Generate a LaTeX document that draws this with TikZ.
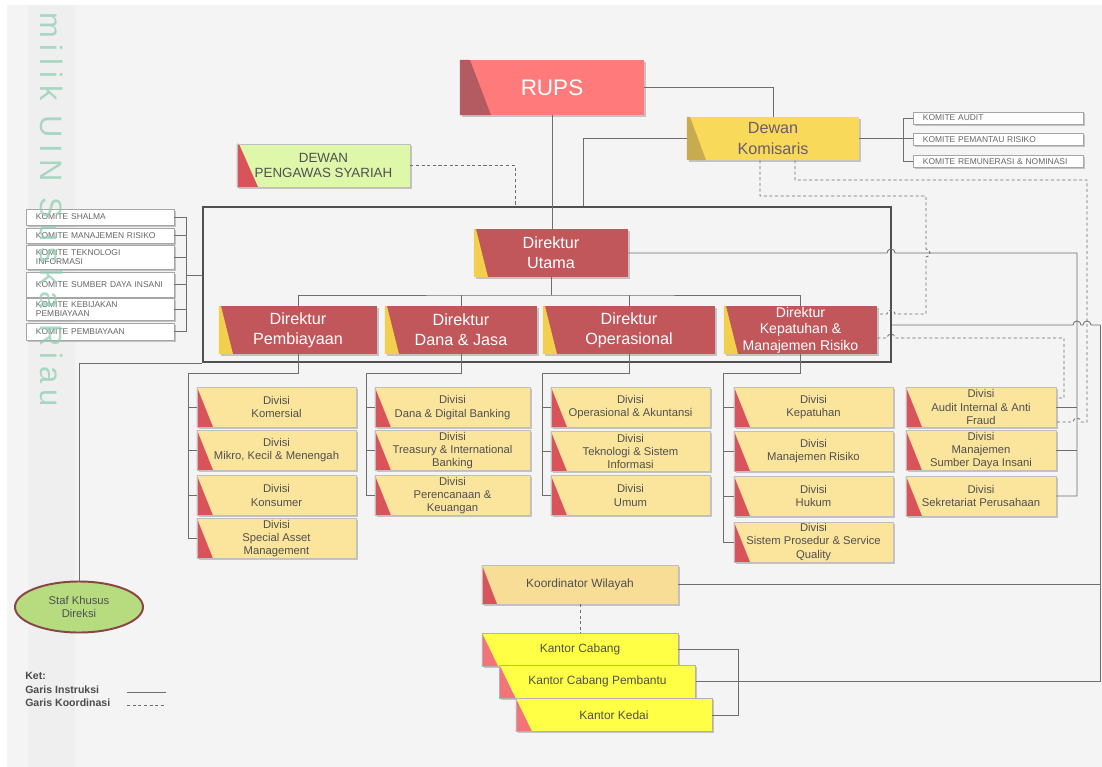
\documentclass[tikz,border=0pt]{standalone}
\usepackage{fontspec}
\setmainfont{Liberation Sans}
\newfontfamily\wmfont[LetterSpace=21]{Liberation Sans}
\usetikzlibrary{shapes.geometric,shadows}
\definecolor{bgpage}{HTML}{F4F4F4}
\definecolor{bgband}{HTML}{EFEFEF}
\definecolor{wmgreen}{HTML}{8FCFB3}
\definecolor{lngray}{HTML}{6E6E6E}
\definecolor{framegray}{HTML}{505050}
\definecolor{rupsfill}{HTML}{FF7B7B}
\definecolor{rupsdark}{HTML}{B45A61}
\definecolor{dekomfill}{HTML}{F8D95A}
\definecolor{dekomdark}{HTML}{C9AB4F}
\definecolor{dekomtext}{HTML}{6A5D70}
\definecolor{dpsfill}{HTML}{DEF7A8}
\definecolor{dirfill}{HTML}{C1575B}
\definecolor{diryellow}{HTML}{F3CF4E}
\definecolor{divfill}{HTML}{FBE49C}
\definecolor{divred}{HTML}{D9545A}
\definecolor{korfill}{HTML}{F8DD96}
\definecolor{kanfill}{HTML}{FFFF45}
\definecolor{kanred}{HTML}{F27479}
\definecolor{staffill}{HTML}{B6DC7F}
\definecolor{stafline}{HTML}{8A4646}
\definecolor{txtgray}{HTML}{505050}
\tikzset{
	accent/.style n args={3}{path picture={\fill[#1] (path picture bounding box.north west) -- ([xshift=#2]path picture bounding box.north west) -- ([xshift=#3]path picture bounding box.south west) -- (path picture bounding box.south west) -- cycle;}},
	boxshadow/.style={drop shadow={shadow xshift=1.2pt,shadow yshift=-1.2pt,opacity=0.2,fill=black}},
	ln/.style={draw=lngray, line width=0.6pt},
	lnd/.style={ln, dash pattern=on 2.2pt off 1.8pt},
	rupsbox/.style={fill=rupsfill, text=white, font=\fontsize{16}{18}\selectfont, minimum width=4.6cm, minimum height=1.375cm, inner sep=0pt, accent={rupsdark}{0.25cm}{0.775cm}, boxshadow},
	dekombox/.style={fill=dekomfill, text=dekomtext, font=\fontsize{11.5}{14.7}\selectfont, align=center, minimum width=4.3cm, minimum height=1.075cm, inner sep=0pt, accent={dekomdark}{0.075cm}{0.475cm}, boxshadow},
	dpsbox/.style={draw=black!25, fill=dpsfill, text=txtgray, font=\fontsize{9.5}{11}\selectfont, align=center, minimum width=4.325cm, minimum height=1.075cm, inner sep=0pt, accent={divred}{0.05cm}{0.525cm}, boxshadow},
	dirbox/.style={fill=dirfill, text=white, font=\fontsize{11.5}{14}\selectfont, align=center, minimum height=1.2cm, inner sep=0pt, accent={diryellow}{0.05cm}{0.35cm}, boxshadow},
	divbox/.style={draw=black!25, fill=divfill, text=txtgray, font=\fontsize{8}{9.5}\selectfont, align=center, minimum height=1cm, inner sep=0pt, accent={divred}{0cm}{0.4cm}, boxshadow},
	komitebox/.style={draw=black!35, fill=white, text=black!60, font=\fontsize{6}{6.5}\selectfont, align=left, inner xsep=0.25cm, inner ysep=0pt, text width=3.2cm, boxshadow},
	korbox/.style={draw=black!25, fill=korfill, text=txtgray, font=\fontsize{8.5}{10}\selectfont, minimum width=4.9cm, minimum height=0.975cm, inner sep=0pt, accent={divred}{0cm}{0.375cm}, boxshadow},
	kantorbox/.style={draw=black!30, fill=kanfill, text=txtgray, font=\fontsize{8.5}{10}\selectfont, minimum width=4.9cm, minimum height=0.825cm, inner sep=0pt, accent={kanred}{0cm}{0.4cm}, boxshadow},
	legtext/.style={text=black!70, font=\bfseries\fontsize{7.5}{9}\selectfont, inner sep=0pt, anchor=west}
}
\begin{document}
\begin{tikzpicture}[x=0.025cm,y=-0.025cm]
	\useasboundingbox (0,0) rectangle (1102,767);
	\fill[white] (0,0) rectangle (1102,767);
	\fill[bgpage] (7,5) rectangle (1102,767);
	\fill[bgband] (28,5) rectangle (75,767);

	\node[draw=framegray, line width=1.3pt, minimum width=17.2cm, minimum height=3.875cm, inner sep=0pt] (direksi) at (547,284.5) {};

	\node[rupsbox] (rups) at (552,87.5) {RUPS};
	\node[dekombox] (dekom) at (773,138.5) {Dewan\\Komisaris};
	\node[dpsbox] (dps) at (323.5,165.5) {DEWAN\\PENGAWAS SYARIAH};
	\foreach \n/\y/\t in {kaudit/118/{KOMITE AUDIT},kpr/139.5/{KOMITE PEMANTAU RISIKO},krem/161.5/{KOMITE REMUNERASI \& NOMINASI}}
		\node[komitebox, text width=3.75cm, minimum height=0.31cm] (\n) at (998,\y) {\t};
	\foreach \n/\y/\h/\t in {shalma/217/0.4/{KOMITE SHALMA},kmr/235.5/0.375/{KOMITE MANAJEMEN RISIKO},kti/257/0.6/{KOMITE TEKNOLOGI\\INFORMASI},ksdi/284.5/0.625/{KOMITE SUMBER DAYA INSANI},kkp/309/0.55/{KOMITE KEBIJAKAN\\PEMBIAYAAN},kpem/331.5/0.425/{KOMITE PEMBIAYAAN}}
		\node[komitebox, minimum height=\h cm] (\n) at (100,\y) {\t};

	\node[dirbox, minimum width=3.85cm] (dirut) at (551,253) {Direktur\\Utama};
	\node[dirbox, minimum width=3.95cm] (dirpem) at (298,330) {Direktur\\Pembiayaan};
	\node[dirbox, minimum width=3.8cm] (dirdj) at (461,330) {Direktur\\Dana \& Jasa};
	\node[dirbox, minimum width=4.3cm] (dirop) at (629,330) {Direktur\\Operasional};
	\node[dirbox, minimum width=3.825cm, font=\fontsize{10}{11.8}\selectfont] (dirkp) at (800.5,330) {Direktur\\Kepatuhan \&\\Manajemen Risiko};

	\foreach \n/\x/\y/\w/\t in {pa/276.5/407/3.975/{Divisi\\Komersial},pb/276.5/450/3.975/{Divisi\\Mikro, Kecil \& Menengah},pc/276.5/495.5/3.975/{Divisi\\Konsumer},pd/276.5/538.5/3.975/{Divisi\\Special Asset\\Management},
		ja/452.5/407.5/3.875/{Divisi\\Dana \& Digital Banking},jb/452.5/450.5/3.875/{Divisi\\Treasury \& International\\Banking},jc/452.5/495.5/3.875/{Divisi\\Perencanaan \&\\Keuangan},
		oa/630.5/407/3.975/{Divisi\\Operasional \& Akuntansi},ob/630.5/451.5/3.975/{Divisi\\Teknologi \& Sistem\\Informasi},oc/630.5/495.5/3.975/{Divisi\\Umum},
		ka/813.5/407/3.975/{Divisi\\Kepatuhan},kb/813.5/451/3.975/{Divisi\\Manajemen Risiko},kc/813.5/496/3.975/{Divisi\\Hukum},kd/813.5/542/3.975/{Divisi\\Sistem Prosedur \& Service\\Quality},
		ua/981/407/3.75/{Divisi\\Audit Internal \& Anti\\Fraud},ub/981/450.5/3.75/{Divisi\\Manajemen\\Sumber Daya Insani},uc/981/496/3.75/{Divisi\\Sekretariat Perusahaan}}
		\node[divbox, minimum width=\w cm] (\n) at (\x,\y) {\t};

	\node[korbox] (korwil) at (580,584.5) {Koordinator Wilayah};
	\node[kantorbox] (cabang) at (580,649.5) {Kantor Cabang};
	\node[kantorbox] (capem) at (597.5,681.5) {Kantor Cabang Pembantu};
	\node[kantorbox] (kedai) at (614,715) {Kantor Kedai};
	\node[ellipse, draw=stafline, line width=1.4pt, fill=staffill, text=txtgray, font=\fontsize{8}{9.5}\selectfont, align=center, minimum width=3.2cm, minimum height=1.275cm, inner sep=0pt] (staf) at (79,607) {Staf Khusus\\Direksi};

	\draw[ln] (rups.south) -- (rups.south |- dirut.north);
	\draw[ln] (rups.east) -| (dekom.north);
	\draw[ln] (dekom.west) -| ([xshift=0.9cm]direksi.north);
	\draw[lnd] (dps.east) -| ([xshift=-0.8cm]direksi.north);
	\coordinate (kr) at (903,138.5);
	\draw[ln] (dekom.east) -- (dekom.east -| kpr.west);
	\draw[ln] (kaudit.west) -| (kr) |- (krem.west);

	\draw[lnd] ([xshift=-0.325cm]dekom.south) |- (926,196) -- (926,249) arc[start angle=90, end angle=-90, radius=0.1cm] -- (926,314) -- (895,314) arc[start angle=0, end angle=180, radius=0.1cm] -- ([yshift=0.4cm]dirkp.east);
	\draw[lnd] ([xshift=0.55cm]dekom.south) |- (1087,180) -- (1087,422) -- (1081,422) arc[start angle=0, end angle=180, radius=0.1cm] -- ([yshift=-0.375cm]ua.east);
	\draw[lnd] ([yshift=-0.2cm]dirkp.east) -- (887,338) arc[start angle=180, end angle=0, radius=0.1cm] -- (1064,338) |- ([yshift=0.225cm]ua.east);

	\coordinate (rb) at (1077,253);
	\draw[ln] (dirut.east) -- (887,253) arc[start angle=180, end angle=0, radius=0.1cm] -- (rb) |- (uc.east);
	\foreach \n in {ua,ub}
		\draw[ln] (\n.east) -- (\n.east -| rb);

	\coordinate (rr) at (1100,325);
	\draw[ln] ([yshift=-1.0125cm]direksi.east) -- (1073,325) arc[start angle=180, end angle=0, radius=0.1cm] -- (1083,325) arc[start angle=180, end angle=0, radius=0.1cm] -- (rr);
	\draw[ln] (capem.east) -| (rr);
	\draw[ln] (korwil.east) -- (korwil.east -| rr);

	\draw[ln] (staf.north) |- (direksi.south west);
	\coordinate (lb) at (186,275);
	\foreach \n in {shalma,kmr,kti,ksdi,kkp,kpem}
		\draw[ln] (\n.east) -- (\n.east -| lb);
	\draw[ln] (shalma.east -| lb) -- (kpem.east -| lb);
	\draw[ln] (lb) -- (lb -| direksi.west);

	\coordinate (bus) at (551,295);
	\draw[ln] (dirut.south) -- (bus);
	\draw[ln] (dirpem.north) |- (bus) -| (dirkp.north);
	\foreach \d in {dirdj,dirop}
		\draw[ln] (\d.north) -- (\d.north |- bus);

	\coordinate (b1) at (188,373);
	\coordinate (b2) at (366,373);
	\coordinate (b3) at (542,373);
	\coordinate (b4) at (723,373);
	\draw[ln] (dirpem.south) |- (b1) |- (pd.west);
	\draw[ln] (dirdj.south) |- (b2) |- (jc.west);
	\draw[ln] (dirop.south) |- (b3) |- (oc.west);
	\draw[ln] (dirkp.south) |- (b4) |- (kd.west);
	\foreach \n in {pa,pb,pc}
		\draw[ln] (\n.west) -- (\n.west -| b1);
	\foreach \n in {ja,jb}
		\draw[ln] (\n.west) -- (\n.west -| b2);
	\foreach \n in {oa,ob}
		\draw[ln] (\n.west) -- (\n.west -| b3);
	\foreach \n in {ka,kb,kc}
		\draw[ln] (\n.west) -- (\n.west -| b4);

	\draw[lnd] (korwil.south) -- (cabang.north);
	\coordinate (kbr) at (738,650);
	\draw[ln] (cabang.east) -- (cabang.east -| kbr) |- (kedai.east);

	\node[legtext] (ket) at (25,676) {Ket:};
	\node[legtext] (gi) at (25,689.5) {Garis Instruksi};
	\node[legtext] (gk) at (25,703) {Garis Koordinasi};
	\coordinate (la) at (127,692);
	\coordinate (lc) at (127,705);
	\draw[ln] (la) -- ++(0.975cm,0);
	\draw[lnd] (lc) -- ++(0.975cm,0);

	\node[rotate=-90, text=wmgreen, text opacity=0.75, font=\wmfont\fontsize{22}{22}\selectfont] (wm) at (52,210) {milik UIN Suska Riau};
\end{tikzpicture}
\end{document}
